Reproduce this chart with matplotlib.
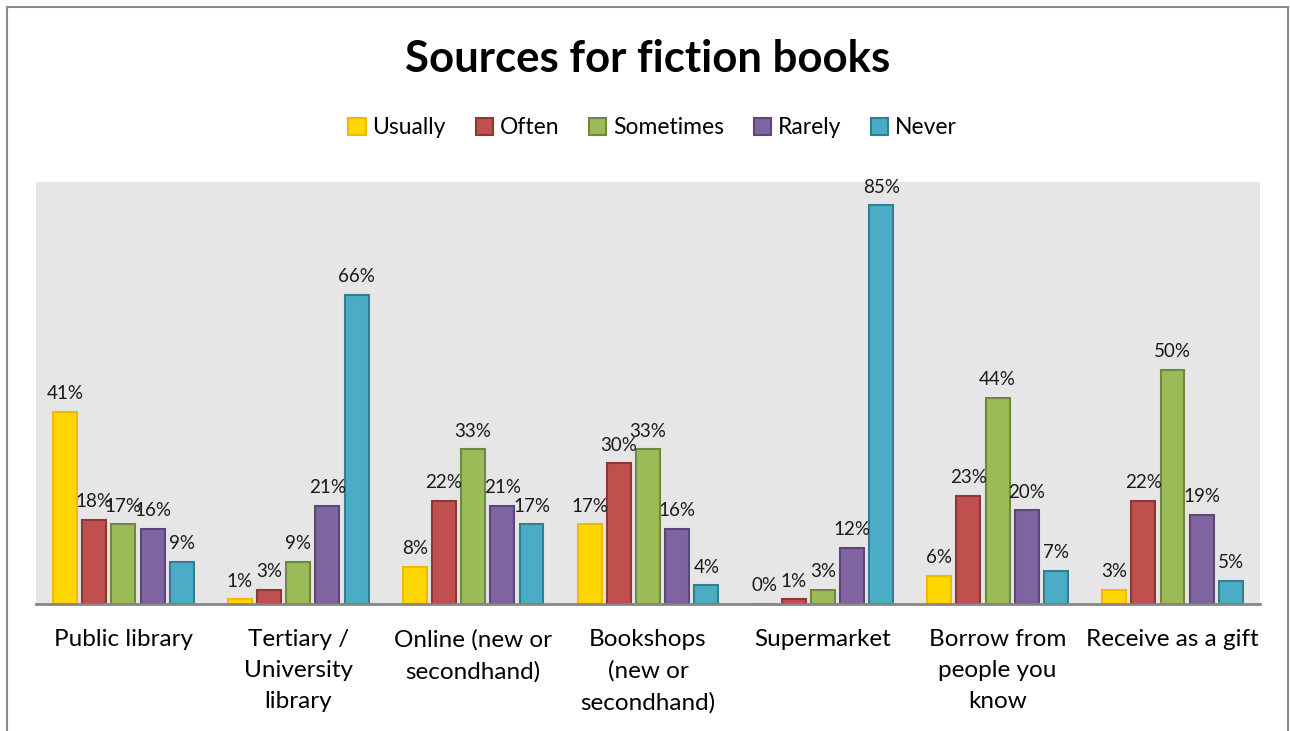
import numpy as np
import matplotlib.pyplot as plt
from matplotlib.lines import Line2D
from matplotlib.patches import Patch

plt.rcParams['font.family'] = ['Lato', 'DejaVu Sans']

categories = ['Public library', 'Tertiary /\nUniversity\nlibrary', 'Online (new or\nsecondhand)',
              'Bookshops\n(new or\nsecondhand)', 'Supermarket', 'Borrow from\npeople you\nknow',
              'Receive as a gift']
series = ['Usually', 'Often', 'Sometimes', 'Rarely', 'Never']
usually = [41, 1, 8, 17, 0, 6, 3]
often = [18, 3, 22, 30, 1, 23, 22]
sometimes = [17, 9, 33, 33, 3, 44, 50]
rarely = [16, 21, 21, 16, 12, 20, 19]
never = [9, 66, 17, 4, 85, 7, 5]

faces = ['#FFD700', '#C0504D', '#9BBB59', '#8064A2', '#4BACC6']
edges = ['#F5B800', '#8C3836', '#71893F', '#5C4776', '#357D91']

fig = plt.figure(figsize=(12.9, 7.31), dpi=100)
ax = fig.add_axes([0.0279, 0.1737, 0.9488, 0.5773])
ax.set_facecolor('#E6E6E6')

x = np.arange(len(categories))
pitch = 0.167
width = 0.137
for i, vals in enumerate([usually, often, sometimes, rarely, never]):
    xs = x + (i - 2) * pitch
    ax.bar(xs, vals, width, color=faces[i], edgecolor=edges[i], linewidth=1.5, zorder=2)
    for xi, v in zip(xs, vals):
        ax.annotate(f'{v}%', (xi, v), xytext=(0, 7), textcoords='offset points',
                    ha='center', va='bottom', fontsize=13.5, color='#1a1a1a')

ax.set_xlim(-0.5, len(categories) - 0.5)
ax.set_ylim(0, 90)
ax.set_yticks([])
ax.set_xticks(x)
ax.set_xticklabels(categories, fontsize=17.5, linespacing=1.6)
ax.tick_params(axis='x', length=0, pad=18)
for s in ['top', 'left', 'right']:
    ax.spines[s].set_visible(False)
ax.spines['bottom'].set_color('#868686')
ax.spines['bottom'].set_linewidth(2)

fig.text(0.502, 0.919, 'Sources for fiction books', ha='center', va='center',
         fontsize=31.5, fontweight='bold')

handles = [Patch(facecolor=faces[i], edgecolor=edges[i], linewidth=1.5) for i in range(5)]
fig.legend(handles, series, loc='center', bbox_to_anchor=(0.506, 0.825), ncol=5,
           frameon=False, fontsize=16.5, handlelength=0.75, handleheight=0.75,
           handletextpad=0.3, columnspacing=1.3)

# outer frame around the chart (bottom edge runs off the canvas)
w, h = 1290, 731
for xs_, ys_ in [([7 / w, 7 / w], [0, 1 - 7 / h]),
                 ([7 / w, 1288 / w], [1 - 7 / h, 1 - 7 / h]),
                 ([1288 / w, 1288 / w], [1 - 7 / h, 0])]:
    fig.add_artist(Line2D(xs_, ys_, color='#8A8A8A', linewidth=1.5, transform=fig.transFigure))

fig.savefig('out.png', dpi=100)
